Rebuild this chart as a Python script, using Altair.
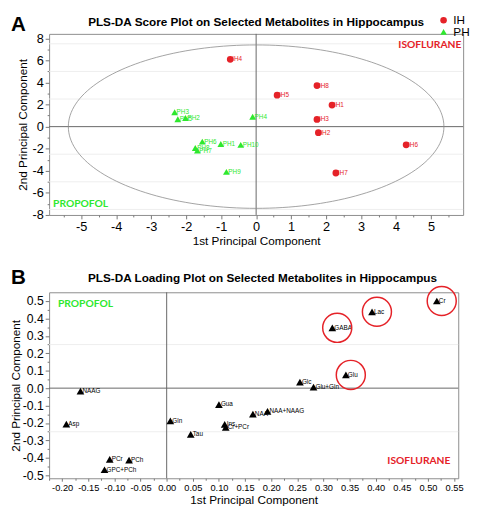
import json
import altair as alt
import pandas as pd

# ---------------- Panel A: PLS-DA scores ----------------
ih_names = ["IH1", "IH2", "IH3", "IH4", "IH5", "IH6", "IH7", "IH8"]
ih_pc1 = [2.17, 1.78, 1.74, -0.74, 0.60, 4.29, 2.28, 1.74]
ih_pc2 = [1.95, -0.55, 0.65, 6.10, 2.85, -1.65, -4.20, 3.72]

ph_names = ["PH1", "PH2", "PH3", "PH4", "PH5", "PH6", "PH7", "PH8", "PH9", "PH10"]
ph_pc1 = [-1.01, -2.02, -2.33, -0.10, -2.24, -1.54, -1.68, -1.74, -0.85, -0.44]
ph_pc2 = [-1.57, 0.78, 1.30, 0.90, 0.67, -1.36, -2.17, -1.94, -4.10, -1.65]

groups = ["IH", "PH"]
group_colors = ["#e52228", "#2ee82e"]
group_shapes = ["circle", "triangle-up"]

# Hotelling ellipse semi-axes (score units)
ellipse_a = 5.37
ellipse_b = 7.40

score_x_major = [-5, -4, -3, -2, -1, 0, 1, 2, 3, 4, 5]
score_x_minor = [-5.5, -4.5, -3.5, -2.5, -1.5, -0.5, 0.5, 1.5, 2.5, 3.5, 4.5, 5.5]
score_y_major = [-8, -6, -4, -2, 0, 2, 4, 6, 8]
score_y_minor = [-7, -5, -3, -1, 1, 3, 5, 7]
score_grid = [-7.5, -5, -2.5, 2.5, 5, 7.5]

# ---------------- Panel B: PLS-DA loadings ----------------
metabolites = ["NAAG", "Asp", "PCr", "PCh", "GPC+PCh", "Gln", "Tau", "Gua", "Ins",
               "Cr+PCr", "NAA", "NAA+NAAG", "Glc", "Glu+Gln", "Glu", "GABA", "Lac", "Cr"]
load_pc1 = [-0.165, -0.192, -0.109, -0.072, -0.119, 0.007, 0.046, 0.100, 0.111,
            0.113, 0.165, 0.193, 0.255, 0.281, 0.343, 0.317, 0.393, 0.517]
load_pc2 = [-0.017, -0.206, -0.409, -0.413, -0.468, -0.188, -0.265, -0.094, -0.208,
            -0.225, -0.149, -0.133, 0.035, 0.006, 0.076, 0.346, 0.438, 0.500]
highlighted = ["Glu", "GABA", "Lac", "Cr"]

load_x_major = [-0.20, -0.15, -0.10, -0.05, 0.00, 0.05, 0.10, 0.15, 0.20, 0.25,
                0.30, 0.35, 0.40, 0.45, 0.50, 0.55]
load_x_minor = [-0.225, -0.175, -0.125, -0.075, -0.025, 0.025, 0.075, 0.125, 0.175,
                0.225, 0.275, 0.325, 0.375, 0.425, 0.475, 0.525]
load_y_major = [-0.5, -0.4, -0.3, -0.2, -0.1, 0.0, 0.1, 0.2, 0.3, 0.4, 0.5]
load_y_minor = [-0.45, -0.35, -0.25, -0.15, -0.05, 0.05, 0.15, 0.25, 0.35, 0.45]
load_grid = [-0.25, 0.25]

title_a = "PLS-DA Score Plot on Selected Metabolites in Hippocampus"
title_b = "PLS-DA Loading Plot on Selected Metabolites in Hippocampus"

RED = "#e52228"
GREEN = "#2ee82e"
FONT = "Liberation Sans"

W_A, H_A = 423, 185
W_B, H_B = 418, 190
LEFT = -39  # left edge of the panel letters, relative to the plot area


def make_axis(title, major, minor, fmt, label_size, label_pad, title_pad,
              tick_major=4, tick_minor=2):
    test = "indexof(%s, datum.value) >= 0" % json.dumps(major)
    return alt.Axis(
        title=title,
        values=sorted(major + minor),
        labelExpr="%s ? replace(format(datum.value, '%s'), '\u2212', '-') : ''" % (test, fmt),
        tickSize={"condition": {"test": test, "value": tick_major}, "value": tick_minor},
        tickColor="#777777",
        grid=False,
        domain=False,
        labelFont=FONT,
        labelFontSize=label_size,
        labelColor="#000000",
        labelPadding=label_pad,
        labelOverlap=False,
        labelFlush=False,
        titleFont=FONT,
        titleFontSize=12,
        titleFontWeight="normal",
        titleColor="#000000",
        titlePadding=title_pad,
    )


def text_chart(txt, **mark):
    return alt.Chart(pd.DataFrame({"t": [txt]})).mark_text(**mark)


# ---------- Panel A construction ----------
score_df = pd.DataFrame({
    "name": ih_names + ph_names,
    "pc1": ih_pc1 + ph_pc1,
    "pc2": ih_pc2 + ph_pc2,
    "group": ["IH"] * len(ih_names) + ["PH"] * len(ph_names),
})

ax_a_x = make_axis("1st Principal Component", score_x_major, score_x_minor, "d", 13, 2, 2)
ax_a_y = make_axis("2nd Principal Component", score_y_major, score_y_minor, "d", 13, 2, 3)
sc_a_x = alt.Scale(domain=[-5.92, 5.92], nice=False, zero=False)
sc_a_y = alt.Scale(domain=[-8.0, 8.4], nice=False, zero=False)


def ax_(field):
    return alt.X(field, type="quantitative", scale=sc_a_x, axis=ax_a_x)


def ay_(field):
    return alt.Y(field, type="quantitative", scale=sc_a_y, axis=ax_a_y)


legend_a = alt.Legend(title=None, orient="none", legendX=W_A - 26, legendY=-20,
                      labelFont=FONT, labelFontSize=12, labelLimit=40, symbolSize=45,
                      rowPadding=-8, labelOffset=4, padding=0, symbolStrokeWidth=0)
color_a = alt.Color("group:N", scale=alt.Scale(domain=groups, range=group_colors),
                    legend=legend_a)
shape_a = alt.Shape("group:N", scale=alt.Scale(domain=groups, range=group_shapes),
                    legend=legend_a)

grid_a = alt.Chart(pd.DataFrame({"v": score_grid})).mark_rule(
    color="#eeeeee", strokeWidth=1).encode(y=ay_("v"))
zero_ax = alt.Chart(pd.DataFrame({"v": [0]})).mark_rule(
    color="#666666", strokeWidth=1).encode(x=ax_("v"))
zero_ay = alt.Chart(pd.DataFrame({"v": [0]})).mark_rule(
    color="#666666", strokeWidth=1).encode(y=ay_("v"))

ellipse = alt.Chart(alt.sequence(0, 362, 2, as_="t")).transform_calculate(
    ex="%f * cos(datum.t * PI / 180)" % ellipse_a,
    ey="%f * sin(datum.t * PI / 180)" % ellipse_b,
).mark_line(color="#8a8a8a", strokeWidth=0.8).encode(
    x=ax_("ex"), y=ay_("ey"), order="t:Q")

labels_a = alt.Chart(score_df).mark_text(
    align="left", baseline="middle", dx=2, fontSize=6.5, font=FONT).encode(
    x=ax_("pc1"), y=ay_("pc2"), text="name:N", color=color_a)

points_a = alt.Chart(score_df).mark_point(filled=True, opacity=1, size=48).encode(
    x=ax_("pc1"), y=ay_("pc2"), color=color_a, shape=shape_a)

iso_a = text_chart("ISOFLURANE", font="Lato", fontWeight="bold", fontSize=10.5,
                   color=RED, align="center", baseline="middle").encode(
    text="t:N", x=alt.value(W_A - 34), y=alt.value(11))
pro_a = text_chart("PROPOFOL", font="Lato", fontWeight="bold", fontSize=10.5,
                   color=GREEN, align="left", baseline="middle").encode(
    text="t:N", x=alt.value(4), y=alt.value(H_A - 11))
letter_a = text_chart("A", font=FONT, fontWeight="bold", fontSize=21, color="#000000",
                      align="left", baseline="alphabetic").encode(
    text="t:N", x=alt.value(LEFT), y=alt.value(-3))
head_a = text_chart(title_a, font=FONT, fontWeight="bold", fontSize=12, color="#000000",
                    align="center", baseline="alphabetic").encode(
    text="t:N", x=alt.value(W_A / 2), y=alt.value(-8))

chart_a = alt.layer(
    grid_a, zero_ax, zero_ay, ellipse, labels_a, points_a, iso_a, pro_a, letter_a, head_a
).properties(width=W_A, height=H_A)

# ---------- Panel B construction ----------
load_df = pd.DataFrame({"name": metabolites, "pc1": load_pc1, "pc2": load_pc2})

ax_b_x = make_axis("1st Principal Component", load_x_major, load_x_minor, ".2f", 9.5, 1, 3,
                   3, 2)
ax_b_y = make_axis("2nd Principal Component", load_y_major, load_y_minor, ".1f", 12.5, 2, 0)
sc_b_x = alt.Scale(domain=[-0.225, 0.558], nice=False, zero=False)
sc_b_y = alt.Scale(domain=[-0.517, 0.55], nice=False, zero=False)


def bx_(field):
    return alt.X(field, type="quantitative", scale=sc_b_x, axis=ax_b_x)


def by_(field):
    return alt.Y(field, type="quantitative", scale=sc_b_y, axis=ax_b_y)


grid_b = alt.Chart(pd.DataFrame({"v": load_grid})).mark_rule(
    color="#eeeeee", strokeWidth=1).encode(y=by_("v"))
zero_bx = alt.Chart(pd.DataFrame({"v": [0]})).mark_rule(
    color="#666666", strokeWidth=1).encode(x=bx_("v"))
zero_by = alt.Chart(pd.DataFrame({"v": [0]})).mark_rule(
    color="#666666", strokeWidth=1).encode(y=by_("v"))

labels_b = alt.Chart(load_df).mark_text(
    align="left", baseline="middle", dx=2, fontSize=6.5, font=FONT, color="#000000").encode(
    x=bx_("pc1"), y=by_("pc2"), text="name:N")
points_b = alt.Chart(load_df).mark_point(
    filled=True, opacity=1, size=62, shape="triangle-up", color="#000000").encode(
    x=bx_("pc1"), y=by_("pc2"))
rings_b = alt.Chart(load_df).transform_filter(
    alt.FieldOneOfPredicate(field="name", oneOf=highlighted)
).mark_point(shape="circle", filled=False, color=RED, strokeWidth=1.5, size=880,
             opacity=1, xOffset=5).encode(x=bx_("pc1"), y=by_("pc2"))

pro_b = text_chart("PROPOFOL", font="Lato", fontWeight="bold", fontSize=10.5,
                   color=GREEN, align="left", baseline="middle").encode(
    text="t:N", x=alt.value(9), y=alt.value(12))
iso_b = text_chart("ISOFLURANE", font="Lato", fontWeight="bold", fontSize=10.5,
                   color=RED, align="right", baseline="middle").encode(
    text="t:N", x=alt.value(W_B - 8), y=alt.value(H_B - 18))
letter_b = text_chart("B", font=FONT, fontWeight="bold", fontSize=21, color="#000000",
                      align="left", baseline="alphabetic").encode(
    text="t:N", x=alt.value(LEFT), y=alt.value(-8))
head_b = text_chart(title_b, font=FONT, fontWeight="bold", fontSize=12, color="#000000",
                    align="center", baseline="alphabetic").encode(
    text="t:N", x=alt.value(218), y=alt.value(-11))

chart_b = alt.layer(
    grid_b, zero_bx, zero_by, labels_b, points_b, rings_b, pro_b, iso_b, letter_b, head_b
).properties(width=W_B, height=H_B)

chart = alt.vconcat(chart_a, chart_b, spacing=20).properties(
    padding=0
).configure_view(stroke="#8c8c8c", strokeWidth=1)

chart.save("out.html", embed_options={"renderer": "svg", "actions": False})
